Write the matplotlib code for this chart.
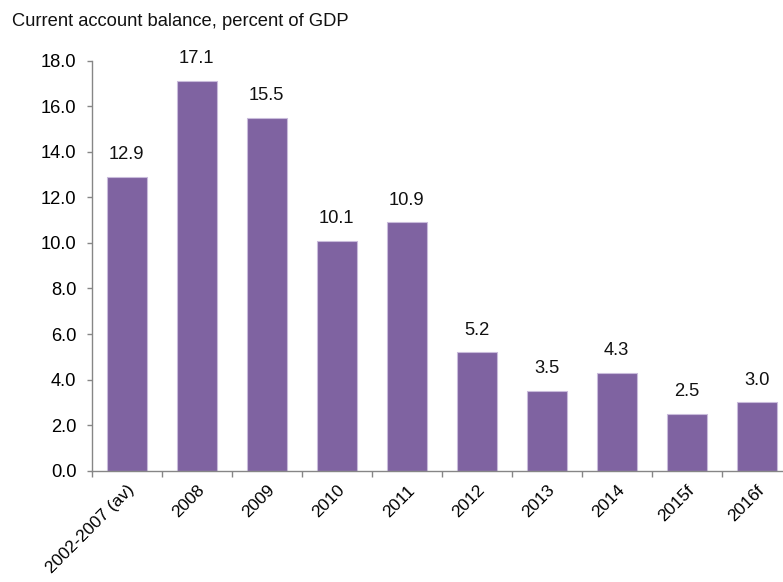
import matplotlib.pyplot as plt
from matplotlib.transforms import ScaledTranslation
import numpy as np

plt.rcParams['font.family'] = ['Liberation Sans', 'DejaVu Sans']

categories = ['2002-2007 (av)', '2008', '2009', '2010', '2011', '2012',
              '2013', '2014', '2015f', '2016f']
values = [12.9, 17.1, 15.5, 10.1, 10.9, 5.2, 3.5, 4.3, 2.5, 3.0]
yticks = [0, 2, 4, 6, 8, 10, 12, 14, 16, 18]

W, H = 783, 582
FS = 13.2
fig = plt.figure(figsize=(W / 100, H / 100), dpi=100)
ax = fig.add_axes([91.7 / W, (H - 470.7) / H, 700 / W, 410 / H])

x = np.arange(len(categories))
bars = ax.bar(x, values, width=0.57, color='#7F63A1', edgecolor='#C9BCDB', linewidth=0.8)

for xi, v in zip(x, values):
    ax.annotate(f'{v:.1f}', (xi, v), xytext=(0, 16), textcoords='offset points',
                ha='center', va='center', fontsize=FS, color='#111111')

ax.set_xlim(-0.5, len(categories) - 0.5)
ax.set_ylim(0, 18)
ax.set_yticks(yticks)
ax.set_yticklabels([f'{t:.1f}' for t in yticks], fontsize=FS)

ax.set_xticks(x)
ax.set_xticklabels(categories, rotation=45, ha='right', rotation_mode='anchor', fontsize=12.5)
# nudge rotated labels so their ends sit under the category centre
shift = ScaledTranslation(-7 / 100, 0, fig.dpi_scale_trans)
for lab in ax.get_xticklabels():
    lab.set_transform(lab.get_transform() + shift)
ax.set_xticks(np.arange(len(categories) + 1) - 0.5, minor=True)
ax.tick_params(axis='x', which='major', length=0, pad=8.5)
ax.tick_params(axis='x', which='minor', length=4.3, color='#868686', width=1)
ax.tick_params(axis='y', length=3.6, color='#868686', width=1, pad=7.5)

for s in ['top', 'right']:
    ax.spines[s].set_visible(False)
for s in ['left', 'bottom']:
    ax.spines[s].set_color('#868686')
    ax.spines[s].set_linewidth(1)

fig.text(12 / W, 1 - 21 / H, 'Current account balance, percent of GDP',
         fontsize=FS, va='center', ha='left', color='#111111')

fig.savefig('out.png', dpi=100)
